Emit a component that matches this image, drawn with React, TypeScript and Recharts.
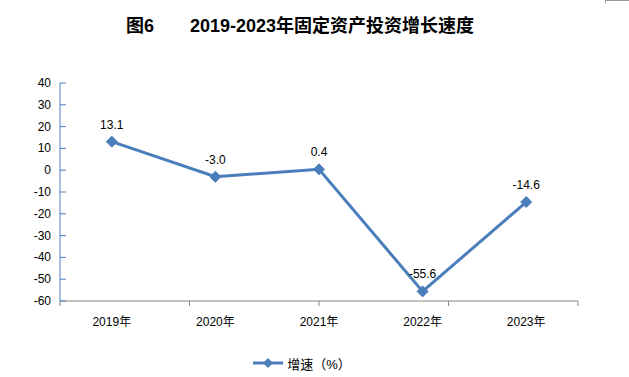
import React from "react";
import { LineChart, Line, XAxis, YAxis, LabelList, Legend } from "recharts";

const years = ["2019年", "2020年", "2021年", "2022年", "2023年"];
const growth = [13.1, -3.0, 0.4, -55.6, -14.6];
const yTicks = [-60, -50, -40, -30, -20, -10, 0, 10, 20, 30, 40];
const boundaryTicks = [0, 1, 2, 3, 4, 5];
const seriesName = "增速（%）";
const titleText = "图6　　2019-2023年固定资产投资增长速度";

const data = years.map((y, i) => ({ year: y, value: growth[i] }));

const FONT = "'Liberation Sans', Arial, 'Noto Sans CJK SC', sans-serif";
const LINE_COLOR = "#4A7EBB";

const Diamond = (props: any) => {
  const { cx, cy } = props;
  if (cx == null || cy == null) return null;
  const r = 5.5;
  return (
    <polygon
      points={`${cx},${cy - r} ${cx + r},${cy} ${cx},${cy + r} ${cx - r},${cy}`}
      fill={LINE_COLOR}
      stroke={LINE_COLOR}
      strokeWidth={1}
    />
  );
};

const YTick = (props: any) => {
  const { x, y, payload } = props;
  return (
    <g>
      <line x1={x} y1={y} x2={x + 6} y2={y} stroke="#4F81BD" strokeWidth={1} />
      <text x={x - 9} y={y} dy={4} textAnchor="end" fontSize={12} fill="#000" fontFamily={FONT}>
        {payload.value}
      </text>
    </g>
  );
};

const XTick = (props: any) => {
  const { x, y, payload } = props;
  return (
    <text x={x} y={y} dy={22} textAnchor="middle" fontSize={12} fill="#000" fontFamily={FONT}>
      {payload.value}
    </text>
  );
};

const EmptyTick = () => <g />;

const LegendContent = (props: any) => {
  const { payload } = props;
  return (
    <div style={{ height: 20, display: "flex", justifyContent: "center", alignItems: "center" }}>
      {(payload || []).map((p: any, i: number) => (
        <div key={i} style={{ display: "flex", alignItems: "center", marginLeft: 4 }}>
          <svg width={30} height={12}>
            <line x1={0} y1={6} x2={30} y2={6} stroke={LINE_COLOR} strokeWidth={3} />
            <polygon points="15,1 20,6 15,11 10,6" fill={LINE_COLOR} />
          </svg>
          <span style={{ fontSize: 13, fontFamily: FONT, color: "#000", marginLeft: 4 }}>{p.value}</span>
        </div>
      ))}
    </div>
  );
};

export default function App() {
  return (
    <div style={{ position: "relative", width: 629, height: 377, background: "#fff" }}>
      <style>{`body{margin:0;background:#fff}`}</style>
      <div
        style={{
          position: "absolute",
          top: 11,
          left: 0,
          width: 600,
          textAlign: "center",
          fontSize: 18,
          fontWeight: "bold",
          fontFamily: FONT,
          color: "#000",
          whiteSpace: "pre",
        }}
      >
        {titleText}
      </div>
      <div
        style={{
          position: "absolute",
          top: 0,
          left: 605,
          width: 24,
          height: 2,
          borderTop: "1px solid #999",
          borderLeft: "1px solid #999",
        }}
      />
      <div style={{ position: "absolute", top: 0, left: 0 }}>
        <LineChart width={629} height={377} data={data} margin={{ top: 83, right: 51, bottom: 30, left: 0 }}>
          <XAxis
            xAxisId="a_edge"
            type="number"
            domain={[0, 5]}
            ticks={boundaryTicks}
            height={1}
            axisLine={{ stroke: "#868686", strokeWidth: 1 }}
            tickLine={{ stroke: "#868686", strokeWidth: 1 }}
            tickSize={5}
            tick={<EmptyTick />}
            interval={0}
            allowDataOverflow
          />
          <XAxis
            xAxisId="b_cat"
            dataKey="year"
            type="category"
            height={25}
            padding={{ left: 51.8, right: 51.8 }}
            axisLine={false}
            tickLine={false}
            tickSize={0}
            tick={<XTick />}
            interval={0}
          />
          <YAxis
            type="number"
            domain={[-60, 40]}
            ticks={yTicks}
            width={60}
            axisLine={{ stroke: "#4F81BD", strokeWidth: 1 }}
            tickLine={false}
            tickSize={0}
            tickMargin={0}
            tick={<YTick />}
            interval={0}
          />
          <Legend
            content={<LegendContent />}
            verticalAlign="bottom"
            wrapperStyle={{ top: 353, left: 0, width: 600 }}
          />
          <Line
            xAxisId="b_cat"
            type="linear"
            dataKey="value"
            name={seriesName}
            stroke={LINE_COLOR}
            strokeWidth={3}
            dot={<Diamond />}
            activeDot={false}
            isAnimationActive={false}
          >
            <LabelList dataKey="value" position="top" offset={13} fontSize={12} fill="#000" fontFamily={FONT} formatter={(v: any) => Number(v).toFixed(1)} />
          </Line>
        </LineChart>
      </div>
    </div>
  );
}
